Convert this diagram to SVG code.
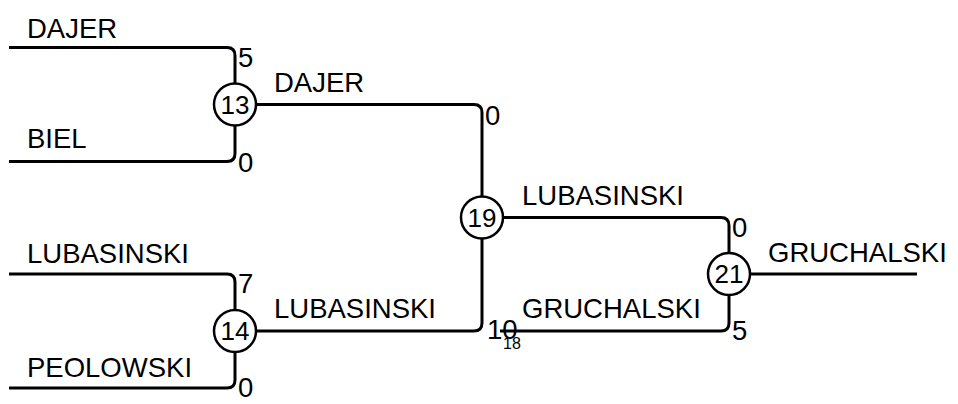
<svg xmlns="http://www.w3.org/2000/svg" width="958" height="404" viewBox="0 0 958 404">
<style>
.c{fill:none;stroke:#000;stroke-width:3}
.n circle{fill:#fff;stroke:#000;stroke-width:2.5}
.n text{font-family:"Liberation Sans",Arial,sans-serif;font-size:26px;text-anchor:middle;fill:#000}
.t{font-family:"Liberation Sans",Arial,sans-serif;font-size:27.5px;fill:#000}
.s{font-family:"Liberation Sans",Arial,sans-serif;font-size:16px;fill:#000}
</style>
<rect width="958" height="404" fill="#fff"/>
<g id="connectors">
<path class="c" d="M9,47.5 H227 Q235,47.5 235,55.5 V84"/>
<path class="c" d="M9,161.5 H227 Q235,161.5 235,153.5 V125"/>
<path class="c" d="M256,104.5 H474 Q482,104.5 482,112.5 V197"/>
<path class="c" d="M9,274 H227 Q235,274 235,282 V310"/>
<path class="c" d="M9,388 H227 Q235,388 235,380 V352"/>
<path class="c" d="M256,331 H474 Q482,331 482,323 V238"/>
<path class="c" d="M503,217.5 H721 Q729,217.5 729,225.5 V253"/>
<path class="c" d="M500,331 H721 Q729,331 729,323 V295"/>
<path class="c" d="M750,274 H917"/>
</g>
<g id="labels">
<text class="t" x="27" y="38">DAJER</text>
<text class="t" x="238" y="67">5</text>
<text class="t" x="27" y="148">BIEL</text>
<text class="t" x="238" y="172">0</text>
<text class="t" x="27" y="263">LUBASINSKI</text>
<text class="t" x="238" y="293">7</text>
<text class="t" x="27" y="377">PEOLOWSKI</text>
<text class="t" x="238" y="397">0</text>
<text class="t" x="274" y="92">DAJER</text>
<text class="t" x="485" y="125">0</text>
<text class="t" x="274" y="318">LUBASINSKI</text>
<text class="t" x="487" y="339">10</text>
<text class="s" x="503" y="349">18</text>
<text class="t" x="522" y="205">LUBASINSKI</text>
<text class="t" x="732" y="237">0</text>
<text class="t" x="522" y="318">GRUCHALSKI</text>
<text class="t" x="732" y="340">5</text>
<text class="t" x="768" y="262">GRUCHALSKI</text>
</g>
<g id="node13" class="n"><circle cx="235" cy="104.5" r="21"/><text x="235" y="113.5">13</text></g>
<g id="node14" class="n"><circle cx="235" cy="331" r="21"/><text x="235" y="340">14</text></g>
<g id="node19" class="n"><circle cx="482" cy="217.5" r="21"/><text x="482" y="226.5">19</text></g>
<g id="node21" class="n"><circle cx="729" cy="274" r="21"/><text x="729" y="283">21</text></g>
</svg>
